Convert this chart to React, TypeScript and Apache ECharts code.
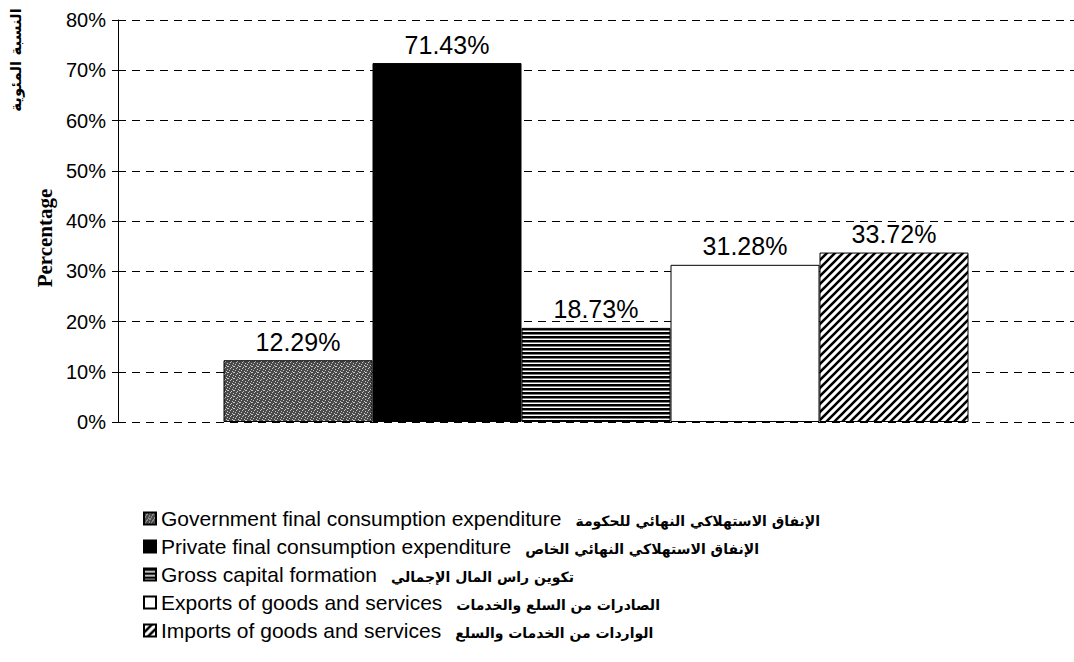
import React, { useEffect, useRef } from "react";
import * as echarts from "echarts";

const categories = ["Share of GDP"];
const seriesNames = [
  "Government final consumption expenditure",
  "Private final consumption expenditure",
  "Gross capital formation",
  "Exports of goods and services",
  "Imports of goods and services",
];
const seriesNamesAr = [
  "الإنفاق الاستهلاكي النهائي للحكومة",
  "الإنفاق الاستهلاكي النهائي الخاص",
  "تكوين راس المال الإجمالي",
  "الصادرات من السلع والخدمات",
  "الواردات من الخدمات والسلع",
];
const values = [12.29, 71.43, 18.73, 31.28, 33.72];
const yTicks = [0, 10, 20, 30, 40, 50, 60, 70, 80];

function makeCanvas(w: number, h: number, draw: (c: CanvasRenderingContext2D) => void) {
  const cv = document.createElement("canvas");
  cv.width = w;
  cv.height = h;
  const ctx = cv.getContext("2d")!;
  draw(ctx);
  return cv;
}

function patterns() {
  const speckle = makeCanvas(6, 6, (c) => {
    c.fillStyle = "#4a4a4a";
    c.fillRect(0, 0, 6, 6);
    c.fillStyle = "#c8c8c8";
    const pts = [[0, 0], [3, 1], [5, 3], [1, 4], [4, 5], [2, 2], [5, 0]];
    pts.forEach(([x, y]) => c.fillRect(x, y, 1, 1));
  });
  const hstripe = makeCanvas(4, 4, (c) => {
    c.fillStyle = "#fff";
    c.fillRect(0, 0, 4, 4);
    c.fillStyle = "#000";
    c.fillRect(0, 0, 4, 2.5);
  });
  const diag = makeCanvas(8, 8, (c) => {
    c.fillStyle = "#fff";
    c.fillRect(0, 0, 8, 8);
    c.strokeStyle = "#000";
    c.lineWidth = 2.6;
    c.beginPath();
    c.moveTo(-2, 10);
    c.lineTo(10, -2);
    c.moveTo(-6, 6);
    c.lineTo(6, -6);
    c.moveTo(2, 14);
    c.lineTo(14, 2);
    c.stroke();
  });
  return [
    { image: speckle, repeat: "repeat" },
    "#000000",
    { image: hstripe, repeat: "repeat" },
    "#ffffff",
    { image: diag, repeat: "repeat" },
  ];
}

export default function App() {
  const ref = useRef<HTMLDivElement>(null);
  useEffect(() => {
    document.body.style.margin = "0";
    const chart = echarts.init(ref.current!, undefined, { renderer: "svg" });
    const fills = patterns();
    const font = "'Liberation Sans', Arial, 'DejaVu Sans', sans-serif";
    chart.setOption({
      animation: false,
      backgroundColor: "#fff",
      textStyle: { fontFamily: font, color: "#000" },
      grid: { left: 118, right: 0, top: 20, height: 402 },
      xAxis: {
        type: "category",
        data: categories,
        show: false,
      },
      yAxis: {
        type: "value",
        min: yTicks[0],
        max: yTicks[yTicks.length - 1],
        interval: 10,
        axisLine: { show: true, lineStyle: { color: "#000", width: 1 } },
        axisTick: { show: true, length: 6, lineStyle: { color: "#000" } },
        axisLabel: {
          formatter: "{value}%",
          fontSize: 20,
          color: "#000",
          margin: 12,
          fontFamily: font,
        },
        splitLine: {
          show: true,
          lineStyle: { color: "#000", width: 1, type: [8, 6] },
        },
      },
      legend: {
        orient: "vertical",
        left: 138,
        top: 503,
        height: 159,
        itemWidth: 12,
        itemHeight: 12,
        itemGap: 7,
        icon: "rect",
        data: seriesNames,
        formatter: (name: string) => {
          const i = seriesNames.indexOf(name);
          return `{en|${name}}{ar|${seriesNamesAr[i]}}`;
        },
        textStyle: {
          rich: {
            en: { fontSize: 21, fontFamily: font, color: "#000", lineHeight: 22 },
            ar: {
              fontSize: 14,
              fontWeight: "bold",
              fontFamily: "'DejaVu Sans', sans-serif",
              color: "#000",
              lineHeight: 18,
              padding: [4, 0, 0, 14],
            },
          },
        },
      },
      graphic: [
        {
          type: "text",
          x: 16,
          y: 60,
          rotation: Math.PI / 2,
          style: {
            text: "النسبة المئوية",
            font: "bold 15px 'DejaVu Sans', sans-serif",
            fill: "#000",
            align: "center",
            verticalAlign: "middle",
          },
        },
        {
          type: "text",
          x: 45,
          y: 238,
          rotation: Math.PI / 2,
          style: {
            text: "Percentage",
            font: "bold 21px 'Liberation Serif', 'Times New Roman', serif",
            fill: "#000",
            align: "center",
            verticalAlign: "middle",
          },
        },
      ],
      series: seriesNames.map((name, i) => ({
        name,
        type: "bar",
        data: [values[i]],
        barWidth: 149,
        barGap: "0%",
        itemStyle: {
          color: fills[i],
          borderColor: "#000",
          borderWidth: 1,
        },
        label: {
          show: true,
          position: "top",
          distance: 6,
          formatter: "{c}%",
          fontSize: 25,
          color: "#000",
          fontFamily: font,
        },
      })),
    });
    return () => chart.dispose();
  }, []);
  return <div ref={ref} style={{ width: 1074, height: 662 }} />;
}
